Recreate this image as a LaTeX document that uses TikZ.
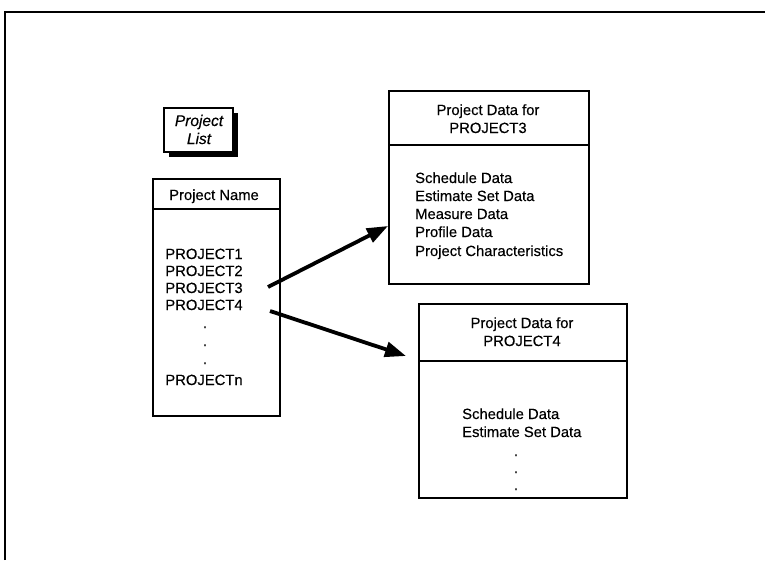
\documentclass[tikz,border=0pt]{standalone}
\usepackage{fontspec}
\setmainfont{Liberation Sans}[FakeBold=0.35]
\usetikzlibrary{arrows.meta}
\begin{document}
\begin{tikzpicture}[x=1pt,y=-1pt,
  font=\fontsize{14.8}{17}\selectfont,
  boxline/.style={draw, line width=1.8pt},
  tablebox/.style={boxline, anchor=north west, inner sep=0pt},
  lbl/.style={inner sep=0pt, anchor=base},
  item/.style={inner sep=0pt, anchor=base west},
  bigarrow/.style={line width=3.8pt, -{Triangle[length=21pt,width=15pt]}},
  frameline/.style={line width=2.4pt}]
\useasboundingbox (0,0) rectangle (765,560);

% page frame (top and left edges)
\draw[frameline] (5,560) -- (5,12) -- (765,12);

% "Project List" note with drop shadow
\fill (169,113) rectangle (238,157);
\node[tablebox, fill=white, minimum width=69pt, minimum height=44pt] (plist) at (163,107) {};
\node[lbl, font=\fontsize{15.5}{17}\selectfont\itshape] (plt1) at (199,126) {Project};
\node[lbl, font=\fontsize{15.5}{17}\selectfont\itshape] (plt2) at (199,144) {List};

% project name table
\node[tablebox, minimum width=127pt, minimum height=237pt] (names) at (152,178) {};
\draw[boxline] (names.west |- 0,209) -- (names.east |- 0,209);
\node[lbl] (nhead) at (214,200) {Project Name};
\node[lbl] (p1) at (204,259) {PROJECT1};
\node[lbl] (p2) at (204,276) {PROJECT2};
\node[lbl] (p3) at (204,293) {PROJECT3};
\node[lbl] (p4) at (204,310) {PROJECT4};
\node[lbl] (d1) at (205,328) {.};
\node[lbl] (d2) at (205,346) {.};
\node[lbl] (d3) at (205,364) {.};
\node[lbl] (pn) at (204,385) {PROJECTn};

% data table for PROJECT3
\node[tablebox, minimum width=200pt, minimum height=193pt] (data3) at (388,90) {};
\draw[boxline] (data3.west |- 0,145) -- (data3.east |- 0,145);
\node[lbl] (h3a) at (488,115) {Project Data for};
\node[lbl] (h3b) at (488,133) {PROJECT3};
\node[item] (s3a) at (415,183) {Schedule Data};
\node[item] (s3b) at (415,201) {Estimate Set Data};
\node[item] (s3c) at (415,219) {Measure Data};
\node[item] (s3d) at (415,237) {Profile Data};
\node[item] (s3e) at (415,256) {Project Characteristics};

% data table for PROJECT4
\node[tablebox, minimum width=208pt, minimum height=194pt] (data4) at (418,303) {};
\draw[boxline] (data4.west |- 0,361) -- (data4.east |- 0,361);
\node[lbl] (h4a) at (522,328) {Project Data for};
\node[lbl] (h4b) at (522,346) {PROJECT4};
\node[item] (s4a) at (462,419) {Schedule Data};
\node[item] (s4b) at (462,437) {Estimate Set Data};
\node[lbl] (e1) at (516,456) {.};
\node[lbl] (e2) at (516,473) {.};
\node[lbl] (e3) at (516,490) {.};

% links from the list entries to their data tables
\coordinate (f3) at (268,287);
\coordinate (f4) at (270,311);
\coordinate (t3) at (388,226);
\coordinate (t4) at (406,356);
\draw[bigarrow] (f3) -- (t3);
\draw[bigarrow] (f4) -- (t4);
\end{tikzpicture}
\end{document}
